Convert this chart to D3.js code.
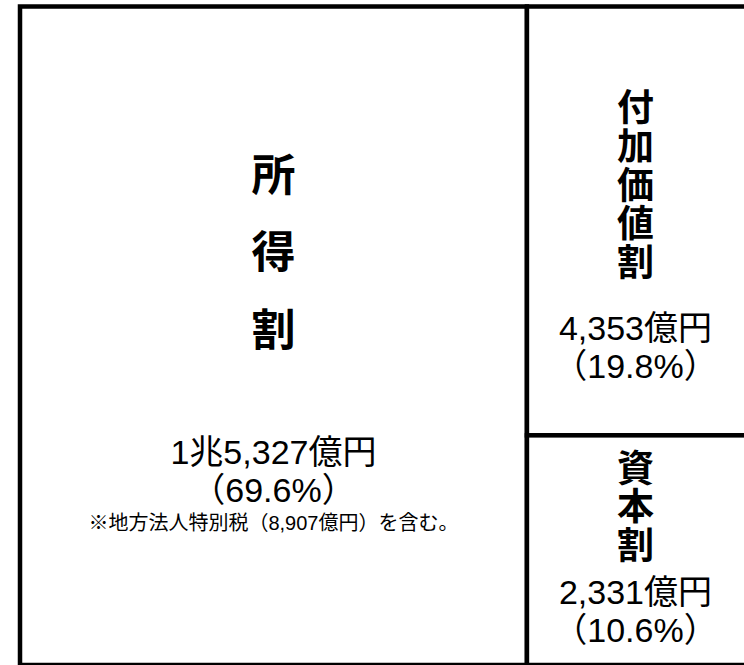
<!DOCTYPE html>
<html lang="ja">
<head>
<meta charset="utf-8">
<script src="https://cdn.jsdelivr.net/npm/d3@7"></script>
<style>
  html, body { margin: 0; padding: 0; background: #fff; }
  svg { display: block; }
  text { font-family: "Liberation Sans", "Noto Sans CJK JP", sans-serif; fill: #000; }
  text.title { font-family: "Noto Sans CJK JP", sans-serif; }
</style>
</head>
<body>
<svg id="chart" width="744" height="665"></svg>
<script>
// 法人事業税の内訳（億円）
const categories = ["所得割", "付加価値割", "資本割"];
const amounts = [15327, 4353, 2331];
const shares = [69.6, 19.8, 10.6];
const amountLabels = ["1兆5,327億円", "4,353億円", "2,331億円"];
const notes = ["※地方法人特別税（8,907億円）を含む。", "", ""];

// Frame of the diagram; the right edge runs past the page
const frame = { x0: 20, y0: 6.5, x1: 748, y1: 665 };
const lineWidth = 4.5;

// Text placement per cell (offsets from the cell's top or bottom edge)
const textLayout = [
  { titleSize: 44, titleStep: 77.5, titleFrom: "top", titleTop: 145.5,
    amountFrom: "top", amountBase: 457.5, pctGap: 38, noteGap: 28 },
  { titleSize: 37, titleStep: 38.8, titleFrom: "top", titleTop: 82,
    amountFrom: "top", amountBase: 333.5, pctGap: 38 },
  { titleSize: 37, titleStep: 38.5, titleFrom: "bottom", titleTop: -216,
    amountFrom: "bottom", amountBase: -61, pctGap: 38 }
];

const svg = d3.select("#chart");

// Slice-and-dice treemap: 所得割 on the left, the other two stacked on the right
const root = d3.hierarchy({
  children: [
    { idx: 0 },
    { children: [{ idx: 1 }, { idx: 2 }] }
  ]
}).sum(d => d.idx !== undefined ? amounts[d.idx] : 0);

d3.treemap()
  .tile(d3.treemapSliceDice)
  .size([frame.x1 - frame.x0, frame.y1 - frame.y0])
  .paddingInner(0)(root);

const leaves = root.leaves().map(l => ({
  i: l.data.idx,
  x0: l.x0 + frame.x0, x1: l.x1 + frame.x0,
  y0: l.y0 + frame.y0, y1: l.y1 + frame.y0
}));

// Cells
svg.append("g")
  .selectAll("rect")
  .data(leaves)
  .join("rect")
  .attr("x", d => d.x0)
  .attr("y", d => d.y0)
  .attr("width", d => d.x1 - d.x0)
  .attr("height", d => d.y1 - d.y0)
  .attr("fill", "#fff")
  .attr("stroke", "#000")
  .attr("stroke-width", lineWidth);

// Labels
const labels = svg.append("g")
  .selectAll("g")
  .data(leaves)
  .join("g");

labels.each(function(d) {
  const g = d3.select(this);
  const L = textLayout[d.i];
  const cx = (d.x0 + Math.min(d.x1, 744)) / 2;
  const ref = from => from === "top" ? d.y0 : d.y1;

  // Category name set vertically, one character under another
  g.append("text")
    .attr("class", "title")
    .attr("x", cx)
    .attr("y", ref(L.titleFrom) + L.titleTop)
    .style("writing-mode", "vertical-rl")
    .attr("letter-spacing", L.titleStep - L.titleSize)
    .attr("font-size", L.titleSize)
    .attr("font-weight", 700)
    .text(categories[d.i]);

  // Amount, share and note as lines of one block
  const block = g.append("text")
    .attr("text-anchor", "middle")
    .attr("font-size", 34);

  block.append("tspan")
    .attr("x", cx)
    .attr("y", ref(L.amountFrom) + L.amountBase)
    .text(amountLabels[d.i]);

  block.append("tspan")
    .attr("x", cx)
    .attr("dy", L.pctGap)
    .text("（" + shares[d.i].toFixed(1) + "%）");

  if (notes[d.i]) {
    block.append("tspan")
      .attr("x", cx)
      .attr("dy", L.noteGap)
      .attr("font-size", 20)
      .text(notes[d.i]);
  }
});
</script>
</body>
</html>
